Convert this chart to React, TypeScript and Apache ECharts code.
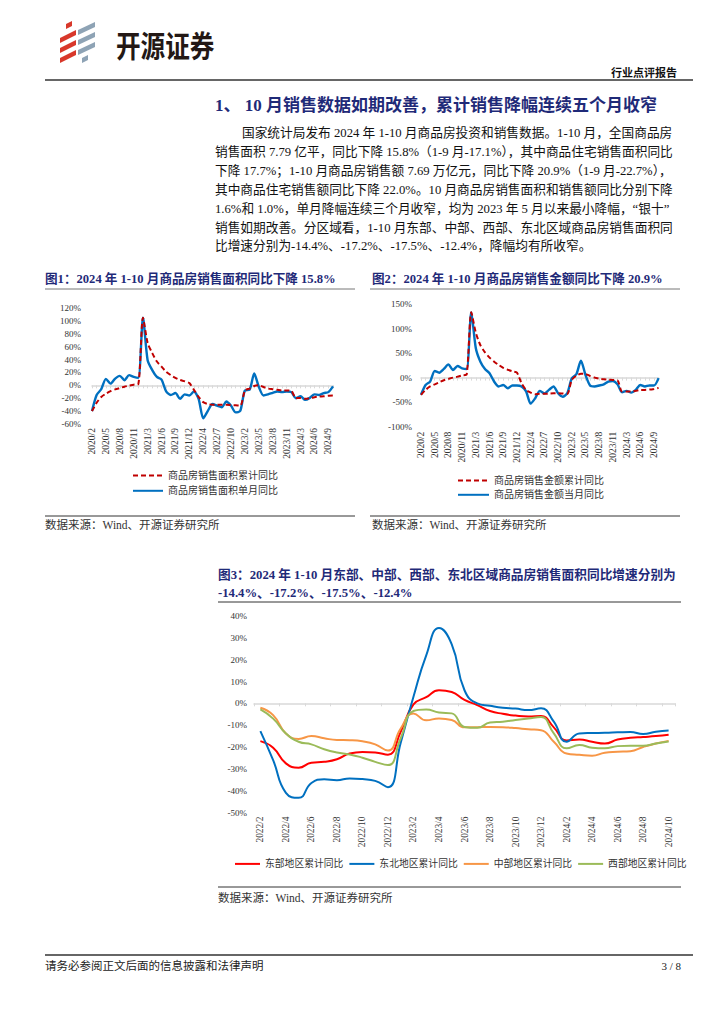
import React, { useEffect, useRef } from "react";
import * as echarts from "echarts";

const SERIF = '"Liberation Serif", "Noto Sans CJK SC", serif';
const SANS = '"Noto Sans CJK SC", sans-serif';
const NAVY = "#1F2A78";
const TXT = "#222";

// ---------- Chart 1 / 2 categories (Jan merged into Feb) ----------
const cats1 = [
  "2020/2", "2020/3", "2020/4", "2020/5", "2020/6", "2020/7", "2020/8", "2020/9", "2020/10", "2020/11", "2020/12",
  "2021/2", "2021/3", "2021/4", "2021/5", "2021/6", "2021/7", "2021/8", "2021/9", "2021/10", "2021/11", "2021/12",
  "2022/2", "2022/3", "2022/4", "2022/5", "2022/6", "2022/7", "2022/8", "2022/9", "2022/10", "2022/11", "2022/12",
  "2023/2", "2023/3", "2023/4", "2023/5", "2023/6", "2023/7", "2023/8", "2023/9", "2023/10", "2023/11", "2023/12",
  "2024/2", "2024/3", "2024/4", "2024/5", "2024/6", "2024/7", "2024/8", "2024/9", "2024/10",
];

const areaCum = [
  -40, -27, -18, -13, -9, -6.3, -4.2, -2.1, -0.5, 1, 2,
  104.9, 66, 50, 37, 29, 21, 15.8, 11.6, 8.4, 6.3, 3.5,
  -7, -18, -26, -29, -30, -30, -30, -30, -30.5, -31, -31.6,
  -8, -5, -1, 0, -2.6, -5, -6, -7, -8, -8, -8.5,
  -20, -19.5, -21, -20, -18.4, -17.4, -17, -16, -15.8,
];
const areaMonth = [
  -40, -15, -6, 10, 2.6, 10.5, 14.7, 8, 15.8, 13, 11.6,
  104.9, 39, 23.7, 13, 9, -9.5, -15, -12, -21, -14, -15.8,
  -9.5, -21, -51, -39.5, -29, -31.6, -34, -25, -31.6, -42, -39.5,
  -8, -7, 18.4, -2.6, -15.8, -14, -11.6, -9.5, -10.5, -9.5, -10.5,
  -20, -17, -22.6, -19.5, -14, -15, -12, -10.5, -1.6,
];

const amtCum = [
  -35, -25, -18, -13.6, -9.5, -5.4, -2.7, 0, 2, 4.7, 6.8,
  133, 91.5, 66, 51.5, 40.7, 32.5, 25.8, 20, 16, 12.9, 10,
  -11.5, -25, -30.5, -34, -33, -33, -32.5, -32, -32, -32.5, -33,
  -4.7, 4, 8, 7.5, 3.4, 0, -2, -3.4, -4, -4.7, -5.4,
  -28.5, -28.5, -28.5, -27, -25, -25, -24.4, -23, -20.9,
];
const amtMonth = [
  -35, -15, -8, 13.6, 10, 17.6, 27, 15.6, 23.7, 19, 17.6,
  133, 60, 32.5, 17.6, 8.8, -8, -18, -15, -21.7, -16, -16,
  -18, -28, -53, -42, -27, -32, -25, -18, -32, -39, -32,
  -1.4, 6.8, 34.6, 5.4, -16, -18, -16, -13.6, -8, -6.8, -13.6,
  -30, -27, -30.5, -25, -15, -18, -16, -16, -1,
];

// ---------- Chart 3 ----------
const cats3 = [
  "2022/2", "2022/3", "2022/4", "2022/5", "2022/6", "2022/7", "2022/8", "2022/9", "2022/10", "2022/11", "2022/12",
  "2023/1", "2023/2", "2023/3", "2023/4", "2023/5", "2023/6", "2023/7", "2023/8", "2023/9", "2023/10", "2023/11", "2023/12",
  "2024/1", "2024/2", "2024/3", "2024/4", "2024/5", "2024/6", "2024/7", "2024/8", "2024/9", "2024/10",
];
const east = [
  -17.3, -20.3, -27.5, -29.5, -27.2, -26.8, -25.6, -23, -22.3, -22.5, -23.5,
  -13, -0.5, 2.8, 6, 5.2, 1.6, -0.8, -3.5, -4.8, -5.6, -6, -5.8,
  -11, -17, -16.6, -17.6, -18.4, -16.6, -15.8, -15.4, -15, -14.4,
];
const northeast = [
  -12.7, -26, -41, -43.3, -36.5, -34.8, -35.2, -34.4, -34.7, -35.5, -38.4,
  -18, 3, 22, 34.5, 27, 6, 0, -1.1, -2, -2.4, -3.1, -2.3,
  -8.4, -17.6, -13.8, -13.6, -13.5, -13.3, -13.1, -14.1, -13, -12.4,
];
const central = [
  -2, -5.4, -13.8, -16.3, -15, -16, -16.8, -16.9, -17.4, -18.8, -21.6,
  -11.5, -4.6, -7.8, -6.9, -7.6, -11, -10.9, -10.8, -10.9, -11.3, -11.9, -12.3,
  -17.6, -23, -23.6, -24, -22.6, -22.2, -21.9, -20, -18.4, -17.2,
];
const west = [
  -2.8, -7, -13.8, -17.6, -18.8, -21, -22.5, -23.4, -24.9, -26.8, -28.3,
  -16, -3.5, -2.8, -4.2, -4.6, -10.8, -11.2, -8.8, -8.4, -7.6, -6.9, -6.3,
  -13.8, -20.6, -19.1, -20.3, -20.6, -19.6, -19.4, -19.4, -18.4, -17.5,
];

// ---------- Page texts ----------
const heading = "1、 10 月销售数据如期改善，累计销售降幅连续五个月收窄";
const bodyLines = [
  "国家统计局发布 2024 年 1-10 月商品房投资和销售数据。1-10 月，全国商品房",
  "销售面积 7.79 亿平，同比下降 15.8%（1-9 月-17.1%），其中商品住宅销售面积同比",
  "下降 17.7%；1-10 月商品房销售额 7.69 万亿元，同比下降 20.9%（1-9 月-22.7%），",
  "其中商品住宅销售额同比下降 22.0%。10 月商品房销售面积和销售额同比分别下降",
  "1.6%和 1.0%，单月降幅连续三个月收窄，均为 2023 年 5 月以来最小降幅，“银十”",
  "销售如期改善。分区域看，1-10 月东部、中部、西部、东北区域商品房销售面积同",
  "比增速分别为-14.4%、-17.2%、-17.5%、-12.4%，降幅均有所收窄。",
];
const title1 = "图1：2024 年 1-10 月商品房销售面积同比下降 15.8%";
const title2 = "图2：2024 年 1-10 月商品房销售金额同比下降 20.9%";
const title3a = "图3：2024 年 1-10 月东部、中部、西部、东北区域商品房销售面积同比增速分别为";
const title3b = "-14.4%、-17.2%、-17.5%、-12.4%";
const sourceText = "数据来源：Wind、开源证券研究所";
const s1 = ["商品房销售面积累计同比", "商品房销售面积单月同比"];
const s2 = ["商品房销售金额累计同比", "商品房销售金额当月同比"];
const s3 = ["东部地区累计同比", "东北地区累计同比", "中部地区累计同比", "西部地区累计同比"];

function txt(x: number, y: number, text: string, size: number, opts: any = {}) {
  return {
    type: "text",
    x,
    y,
    scaleX: opts.scaleX || 1,
    silent: true,
    style: {
      text,
      fill: opts.fill || TXT,
      fontSize: size,
      fontFamily: opts.family || SERIF,
      fontWeight: opts.weight || "normal",
      align: opts.align || "left",
      textAlign: opts.align || "left",
      verticalAlign: "middle",
      textVerticalAlign: "middle",
    },
  };
}
function hline(x1: number, x2: number, y: number, color: string, w: number) {
  return {
    type: "line",
    silent: true,
    shape: { x1, y1: y, x2, y2: y },
    style: { stroke: color, lineWidth: w },
  };
}

function labelAxis(grid: number, data: string[], gap: boolean, interval: number, size: number, margin: number) {
  return {
    type: "category",
    gridIndex: grid,
    data,
    boundaryGap: gap,
    position: "bottom",
    axisLine: { show: false, onZero: false },
    axisTick: { show: false },
    splitLine: { show: false },
    axisLabel: { rotate: 90, interval, fontSize: size, fontFamily: SERIF, color: "#333", margin },
  };
}
function lineAxis(grid: number, data: string[], gap: boolean, interval: number) {
  return {
    type: "category",
    gridIndex: grid,
    data,
    boundaryGap: gap,
    position: "top",
    axisLine: { show: true, onZero: true, lineStyle: { color: "#D9D9D9", width: 1.5 } },
    axisTick: { show: true, inside: true, interval, length: 3, lineStyle: { color: "#D9D9D9", width: 1 } },
    axisLabel: { show: false },
    splitLine: { show: false },
  };
}
function valAxis(grid: number, min: number, max: number, interval: number, size: number, margin: number) {
  return {
    type: "value",
    gridIndex: grid,
    min,
    max,
    interval,
    axisLine: { show: false },
    axisTick: { show: false },
    splitLine: { show: false },
    axisLabel: { formatter: "{value}%", fontSize: size, fontFamily: SERIF, color: "#333", margin },
  };
}
function lineSeries(name: string, data: number[], xi: number, yi: number, color: string, width: number, dashed: boolean, smooth: number) {
  return {
    type: "line",
    name,
    data,
    xAxisIndex: xi,
    yAxisIndex: yi,
    symbol: "none",
    smooth,
    lineStyle: { color, width, type: dashed ? [5, 3] : "solid" },
    itemStyle: { color },
  };
}

function logo() {
  const els: any[] = [];
  const red = "#D8382B";
  const grey = "#8EA3B5";
  const reds = [
    [[66, 24], [72, 21], [72, 26], [66, 29]],
    [[60, 38], [76, 30], [76, 35], [60, 43]],
    [[60, 48], [76, 40], [76, 45], [60, 53]],
    [[60, 58], [76, 50], [76, 55], [60, 63]],
  ];
  const greys = [
    [[78, 30], [95, 22], [95, 27], [78, 35]],
    [[78, 40], [95, 32], [95, 37], [78, 45]],
    [[78, 50], [95, 42], [95, 47], [78, 55]],
    [[82, 58], [88, 55], [88, 60], [82, 63]],
  ];
  reds.forEach((p) => els.push({ type: "polygon", silent: true, shape: { points: p }, style: { fill: red } }));
  greys.forEach((p) => els.push({ type: "polygon", silent: true, shape: { points: p }, style: { fill: grey } }));
  return els;
}

export default function App() {
  const ref = useRef<HTMLDivElement>(null);
  useEffect(() => {
    document.body.style.margin = "0";
    const chart = echarts.init(ref.current!, undefined, { renderer: "svg" });
    const elements: any[] = [
      ...logo(),
      txt(116, 44, "开源证券", 30, { family: SANS, weight: "bold", fill: "#231815", scaleX: 0.82 }),
      txt(677, 72, "行业点评报告", 11, { family: SANS, weight: "bold", align: "right", fill: "#111" }),
      hline(45, 693, 80, "#333", 1.5),
      txt(215, 105, heading, 17, { weight: "bold", fill: NAVY }),
      ...bodyLines.map((l, i) => txt(i === 0 ? 242 : 215, 133 + 18.9 * i, l, 12.7, { fill: "#111" })),
      txt(45, 279, title1, 12.6, { weight: "bold", fill: NAVY }),
      hline(45, 355, 289, "#777", 1),
      txt(372, 279, title2, 12.6, { weight: "bold", fill: NAVY }),
      hline(370, 680, 289, "#777", 1),
      hline(45, 355, 516, "#333", 1),
      hline(370, 680, 516, "#333", 1),
      txt(45, 525, sourceText, 11.5, { fill: "#333" }),
      txt(372, 525, sourceText, 11.5, { fill: "#333" }),
      txt(218, 575, title3a, 12.7, { weight: "bold", fill: NAVY }),
      txt(218, 593, title3b, 12.7, { weight: "bold", fill: NAVY }),
      hline(218, 681, 602, "#333", 1),
      hline(218, 681, 887, "#333", 1),
      txt(218, 898, sourceText, 11.5, { fill: "#333" }),
      hline(45, 693, 955, "#333", 1.5),
      txt(45, 966, "请务必参阅正文后面的信息披露和法律声明", 11.5, { fill: "#222" }),
      txt(681, 966, "3 / 8", 11, { fill: "#222", align: "right" }),
    ];
    const legendCommon = {
      selectedMode: false,
      padding: 0,
      itemStyle: { opacity: 0, borderWidth: 0 },
    };
    const option: any = {
      animation: false,
      grid: [
        { left: 92, top: 308, width: 241, height: 116 },
        { left: 421, top: 304, width: 237.6, height: 122.7 },
        { left: 254, top: 616, width: 421, height: 196.5 },
      ],
      xAxis: [
        labelAxis(0, cats1, false, 2, 9.5, 4),
        lineAxis(0, cats1, false, 0),
        labelAxis(1, cats1, false, 2, 9.5, 5),
        lineAxis(1, cats1, false, 0),
        labelAxis(2, cats3, true, 1, 9.4, 4),
        lineAxis(2, cats3, true, 1),
      ],
      yAxis: [
        valAxis(0, -60, 120, 20, 9, 11),
        valAxis(1, -100, 150, 50, 9, 9),
        valAxis(2, -50, 40, 10, 9, 7),
      ],
      legend: [
        {
          ...legendCommon,
          data: s1, orient: "vertical", left: 132, top: 470, itemWidth: 30, itemHeight: 14, itemGap: 4,
          textStyle: { fontSize: 10, fontFamily: SERIF, color: "#333" },
        },
        {
          ...legendCommon,
          data: s2, orient: "vertical", left: 457, top: 475, itemWidth: 31, itemHeight: 14, itemGap: 3,
          textStyle: { fontSize: 10, fontFamily: SERIF, color: "#333" },
        },
        {
          ...legendCommon,
          data: s3, orient: "horizontal", left: 234, top: 859, itemWidth: 25, itemHeight: 12, itemGap: 5,
          textStyle: { fontSize: 9.8, fontFamily: SERIF, color: "#333" },
        },
      ],
      series: [
        lineSeries(s1[1], areaMonth, 0, 0, "#0070C0", 2.4, false, 0.25),
        lineSeries(s1[0], areaCum, 0, 0, "#C00000", 2, true, 0.25),
        lineSeries(s2[1], amtMonth, 2, 1, "#0070C0", 2.4, false, 0.25),
        lineSeries(s2[0], amtCum, 2, 1, "#C00000", 2, true, 0.25),
        lineSeries(s3[0], east, 4, 2, "#FF0000", 2, false, 0.5),
        lineSeries(s3[1], northeast, 4, 2, "#0070C0", 2, false, 0.5),
        lineSeries(s3[2], central, 4, 2, "#F79646", 2, false, 0.5),
        lineSeries(s3[3], west, 4, 2, "#9BBB59", 2, false, 0.5),
      ],
      graphic: { elements },
    };
    chart.setOption(option);
    return () => chart.dispose();
  }, []);
  return (
    <div
      ref={ref}
      style={{ position: "absolute", left: 0, top: 0, width: 724, height: 1024, background: "#fff" }}
    />
  );
}
